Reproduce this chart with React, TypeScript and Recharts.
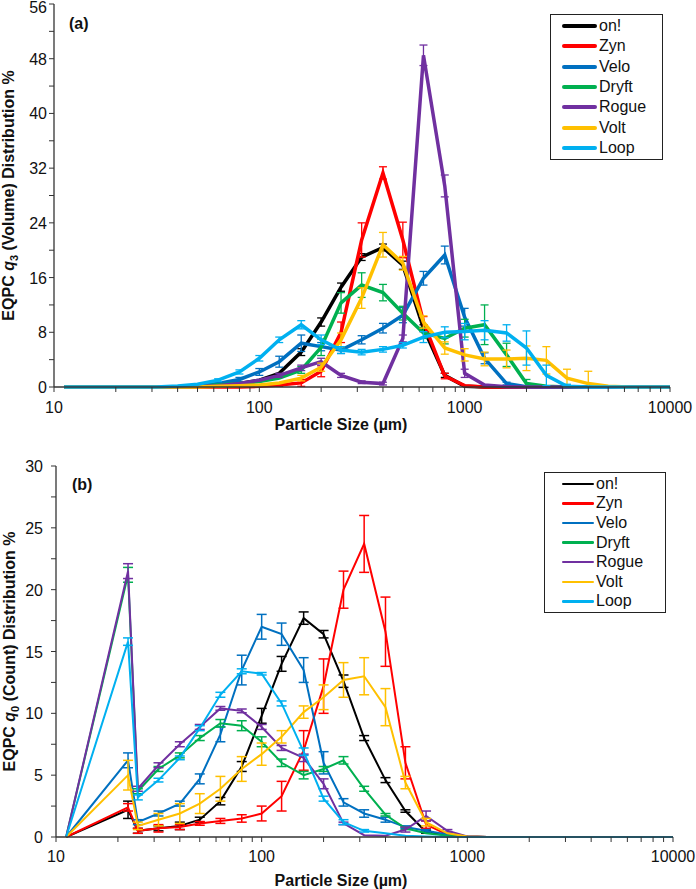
import React from 'react';
import { LineChart, Line, XAxis, YAxis, ErrorBar } from 'recharts';

const sizes = [11.2, 22.4, 25, 31.5, 40, 50, 63, 80, 100, 125, 160, 200, 250, 315, 400, 500, 630, 800, 1000, 1250, 1600, 2000, 2500, 3150, 4000, 5000, 6300, 8000, 10000];

const seriesNames = ['on!', 'Zyn', 'Velo', 'Dryft', 'Rogue', 'Volt', 'Loop'];
const seriesColors = ['#000000', '#FF0000', '#0070C0', '#00B050', '#7030A0', '#FFC000', '#00B0F0'];

const xTicks = [10, 20, 30, 40, 50, 60, 70, 80, 90, 100, 200, 300, 400, 500, 600, 700, 800, 900, 1000, 2000, 3000, 4000, 5000, 6000, 7000, 8000, 9000, 10000];
const xLabels = [10, 100, 1000, 10000];

// (a) q3 volume distribution %
const volOn = [0, 0, 0, 0, 0, 0.1, 0.2, 0.5, 1.0, 2.0, 5.1, 9.5, 14.6, 19.0, 20.4, 17.8, 8.6, 1.7, 0.1, 0, 0, 0, 0, 0, 0, 0, 0, 0, 0];
const volZyn = [0, 0, 0, 0, 0, 0, 0, 0, 0.1, 0.3, 0.6, 2.3, 8.0, 21.5, 31.3, 21.5, 9.5, 1.6, 0.2, 0, 0, 0, 0, 0, 0, 0, 0, 0, 0];
const volVelo = [0, 0, 0, 0, 0, 0.2, 0.5, 1.1, 2.2, 3.7, 6.4, 5.9, 5.4, 6.9, 8.6, 10.5, 15.9, 19.3, 10.2, 4.2, 0.5, 0.05, 0, 0, 0, 0, 0, 0, 0];
const volDryft = [0, 0, 0, 0, 0, 0.1, 0.3, 0.5, 0.8, 1.3, 2.5, 5.8, 12.3, 14.9, 13.8, 10.8, 7.9, 7.1, 8.6, 9.1, 4.7, 0.5, 0.1, 0, 0, 0, 0, 0, 0];
const volRogue = [0, 0, 0, 0, 0, 0.1, 0.2, 0.5, 1.0, 1.7, 2.8, 3.7, 1.7, 0.7, 0.5, 7.1, 48.5, 29.4, 2.0, 0.3, 0.05, 0, 0, 0, 0, 0, 0, 0, 0];
const volVolt = [0, 0, 0, 0, 0, 0, 0.1, 0.2, 0.3, 0.6, 1.3, 2.9, 6.9, 13.0, 20.8, 18.1, 9.5, 5.7, 4.7, 4.1, 4.1, 4.2, 3.9, 1.3, 0.5, 0.1, 0, 0, 0];
const volLoop = [0, 0, 0, 0, 0.15, 0.4, 1.0, 2.2, 4.2, 6.9, 9.1, 6.9, 5.4, 5.1, 5.5, 6.1, 7.3, 8.0, 8.1, 8.3, 7.9, 5.7, 1.7, 0.1, 0, 0, 0, 0, 0];

const volOnErr = [0, 0, 0, 0, 0, 0, 0, 0, 0, 0, 0.5, 0.6, 0.6, 0.5, 0.5, 0.6, 0.5, 0.3, 0, 0, 0, 0, 0, 0, 0, 0, 0, 0, 0];
const volZynErr = [0, 0, 0, 0, 0, 0, 0, 0, 0, 0.2, 0.5, 0.8, 1.5, 2.5, 0.9, 2.6, 0.8, 0.4, 0, 0, 0, 0, 0, 0, 0, 0, 0, 0, 0];
const volVeloErr = [0, 0, 0, 0, 0, 0, 0, 0.3, 0.5, 0.8, 1.2, 0.6, 0.5, 0.6, 0.7, 1.1, 1.0, 1.3, 1.3, 0.8, 0.2, 0, 0, 0, 0, 0, 0, 0, 0];
const volDryftErr = [0, 0, 0, 0, 0, 0, 0, 0, 0, 0, 0.5, 1.2, 1.5, 1.8, 1.2, 1.0, 0.8, 0.8, 1.3, 2.9, 1.7, 0.6, 0, 0, 0, 0, 0, 0, 0];
const volRogueErr = [0, 0, 0, 0, 0, 0, 0, 0, 0, 0.3, 0.4, 0.5, 0.3, 0.2, 0.2, 0.5, 1.5, 1.6, 0.6, 0, 0, 0, 0, 0, 0, 0, 0, 0, 0];
const volVoltErr = [0, 0, 0, 0, 0, 0, 0, 0, 0, 0, 0.4, 0.6, 1.0, 1.5, 1.8, 1.0, 0.9, 0.9, 0.9, 1.0, 1.3, 1.8, 2.0, 1.3, 1.8, 0, 0, 0, 0];
const volLoopErr = [0, 0, 0, 0, 0, 0, 0.2, 0.3, 0.4, 0.4, 0.6, 0.7, 0.5, 0.4, 0.4, 0.4, 0.8, 0.8, 1.2, 1.4, 1.2, 2.5, 1.5, 0.3, 0, 0, 0, 0, 0];

// (b) q0 count distribution %
const cntOn = [0, 2.2, 0.5, 0.7, 0.9, 1.4, 2.9, 5.7, 9.8, 14.0, 17.7, 16.4, 12.6, 8.0, 4.6, 2.1, 0.4, 0.15, 0.05, 0, 0, 0, 0, 0, 0, 0, 0, 0, 0];
const cntZyn = [0, 2.4, 0.5, 0.7, 0.8, 1.1, 1.3, 1.5, 1.9, 3.3, 7.0, 12.2, 20.0, 23.7, 16.6, 6.0, 1.0, 0.2, 0.05, 0, 0, 0, 0, 0, 0, 0, 0, 0, 0];
const cntVelo = [0, 6.2, 1.2, 1.9, 2.7, 4.7, 8.3, 13.5, 17.0, 16.4, 13.5, 6.0, 2.8, 1.9, 1.4, 0.8, 0.5, 0.2, 0.05, 0, 0, 0, 0, 0, 0, 0, 0, 0, 0];
const cntDryft = [0, 21.2, 3.7, 5.5, 6.6, 8.0, 9.2, 9.0, 7.7, 6.0, 5.0, 5.5, 6.2, 3.9, 1.8, 0.7, 0.3, 0.1, 0, 0, 0, 0, 0, 0, 0, 0, 0, 0, 0];
const cntRogue = [0, 21.5, 3.9, 5.8, 7.5, 8.9, 10.4, 10.2, 8.9, 7.2, 6.4, 4.3, 1.1, 0.15, 0.1, 0.6, 1.7, 0.5, 0.05, 0, 0, 0, 0, 0, 0, 0, 0, 0, 0];
const cntVolt = [0, 5.0, 0.9, 1.4, 1.9, 2.7, 3.9, 5.5, 6.7, 8.1, 10.1, 11.3, 12.7, 13.0, 10.5, 4.4, 1.2, 0.3, 0.05, 0, 0, 0, 0, 0, 0, 0, 0, 0, 0];
const cntLoop = [0, 15.8, 3.2, 4.6, 6.4, 8.8, 11.5, 13.4, 13.2, 10.8, 6.9, 3.1, 1.2, 0.5, 0.3, 0.1, 0.05, 0, 0, 0, 0, 0, 0, 0, 0, 0, 0, 0, 0];

const cntOnErr = [0, 0.7, 0.2, 0.2, 0.3, 0.2, 0.3, 0.4, 0.6, 0.6, 0.5, 0.3, 0.5, 0.2, 0.2, 0.1, 0.1, 0, 0, 0, 0, 0, 0, 0, 0, 0, 0, 0, 0];
const cntZynErr = [0, 0.3, 0.2, 0.3, 0.2, 0.15, 0.2, 0.3, 0.6, 1.2, 1.6, 2.2, 1.5, 2.3, 2.8, 1.3, 0.3, 0.1, 0, 0, 0, 0, 0, 0, 0, 0, 0, 0, 0];
const cntVeloErr = [0, 0.6, 0.2, 0.2, 0.2, 0.4, 0.6, 1.2, 1.0, 0.9, 1.0, 0.9, 0.3, 0.3, 0.2, 0.1, 0.1, 0, 0, 0, 0, 0, 0, 0, 0, 0, 0, 0, 0];
const cntDryftErr = [0, 0.6, 0.2, 0.2, 0.2, 0.2, 0.3, 0.4, 0.4, 0.3, 0.3, 0.2, 0.3, 0.2, 0.1, 0.1, 0, 0, 0, 0, 0, 0, 0, 0, 0, 0, 0, 0, 0];
const cntRogueErr = [0, 0.6, 0.2, 0.2, 0.2, 0.2, 0.15, 0.15, 0.2, 0.2, 0.3, 0.4, 0.1, 0, 0, 0.2, 0.4, 0.1, 0, 0, 0, 0, 0, 0, 0, 0, 0, 0, 0];
const cntVoltErr = [0, 1.2, 0.3, 0.5, 0.8, 0.8, 1.0, 1.0, 0.9, 0.5, 0.5, 1.0, 1.4, 1.5, 1.5, 0.5, 0.3, 0, 0, 0, 0, 0, 0, 0, 0, 0, 0, 0, 0];
const cntLoopErr = [0, 0.3, 0.2, 0.15, 0.15, 0.2, 0.2, 0.2, 0.1, 0.2, 0.3, 0.2, 0.2, 0.1, 0, 0, 0, 0, 0, 0, 0, 0, 0, 0, 0, 0, 0, 0, 0];

const volTicks = [0, 4, 8, 12, 16, 20, 24, 28, 32, 36, 40, 44, 48, 52, 56];
const volLabels = [0, 8, 16, 24, 32, 40, 48, 56];
const cntTicks = [0, 2.5, 5, 7.5, 10, 12.5, 15, 17.5, 20, 22.5, 25, 27.5, 30];
const cntLabels = [0, 5, 10, 15, 20, 25, 30];

const FONT = '"Liberation Sans", Arial, sans-serif';
const AXIS = '#333333';

// error bars never go below zero, so the lower arm is clipped at the value
function buildRows(values: number[][], errors: number[][]) {
  return sizes.map((size, i) => {
    const row: Record<string, any> = { size };
    seriesNames.forEach((name, s) => {
      const v = values[s][i];
      const e = errors[s][i];
      row[name] = v;
      row[name + '_err'] = e ? [Math.min(e, v), e] : 0;
    });
    return row;
  });
}

const volRows = buildRows(
  [volOn, volZyn, volVelo, volDryft, volRogue, volVolt, volLoop],
  [volOnErr, volZynErr, volVeloErr, volDryftErr, volRogueErr, volVoltErr, volLoopErr]
);
const cntRows = buildRows(
  [cntOn, cntZyn, cntVelo, cntDryft, cntRogue, cntVolt, cntLoop],
  [cntOnErr, cntZynErr, cntVeloErr, cntDryftErr, cntRogueErr, cntVoltErr, cntLoopErr]
);

interface PanelProps {
  rows: Record<string, any>[];
  top: number;
  height: number;
  margin: { top: number; right: number; left: number; bottom: number };
  yWidth: number;
  xHeight: number;
  yMax: number;
  yTicks: number[];
  yLabels: number[];
  yLabelGap: number;
  tickBaseline: number;
  titleBaseline: number;
  titleX: number;
  sub: string;
  quantity: string;
  tag: string;
  tagPos: { left: number; top: number };
  lineWidth: number;
  errWidth: number;
  errCap: number;
}

function Panel(p: PanelProps) {
  // tick marks point outward; only the decades get a label
  const XTick = (props: any) => {
    const { x, y, payload } = props;
    const axisY = y - 7;
    return (
      <g>
        <line x1={x} x2={x} y1={axisY} y2={axisY + 5} stroke={AXIS} strokeWidth={1} />
        {xLabels.includes(payload.value) && (
          <text x={x} y={axisY + p.tickBaseline} textAnchor="middle" fontSize={16} fontFamily={FONT} fill="#111">
            {payload.value}
          </text>
        )}
      </g>
    );
  };
  const YTick = (props: any) => {
    const { y, payload } = props;
    const ty = payload.value === p.yMax ? Math.max(y + 6, 13) : y + 6;
    return (
      <g>
        <line x1={p.yWidth - 5} x2={p.yWidth} y1={y} y2={y} stroke={AXIS} strokeWidth={1} />
        {p.yLabels.includes(payload.value) && (
          <text x={p.yWidth - p.yLabelGap} y={ty} textAnchor="end" fontSize={16} fontFamily={FONT} fill="#111">
            {payload.value}
          </text>
        )}
      </g>
    );
  };
  const yTitle = (props: any) => {
    const vb = props.viewBox;
    const cy = vb.y + vb.height / 2;
    return (
      <text transform={`translate(${p.titleX}, ${cy}) rotate(-90)`} textAnchor="middle" dy={6} fontSize={16} fontWeight="bold" fontFamily={FONT} fill="#111">
        EQPC <tspan fontStyle="italic">q</tspan>
        <tspan fontSize={11} dy={4}>{p.sub}</tspan>
        <tspan dy={-4}> ({p.quantity}) Distribution %</tspan>
      </text>
    );
  };
  const xTitle = (props: any) => {
    const vb = props.viewBox;
    return (
      <text x={341} y={vb.y + p.titleBaseline} textAnchor="middle" fontSize={16} fontWeight="bold" fontFamily={FONT} fill="#111">
        Particle Size (µm)
      </text>
    );
  };

  return (
    <div style={{ position: 'absolute', left: 0, top: p.top, width: 696, height: p.height }}>
      <LineChart width={696} height={p.height} data={p.rows} margin={p.margin}>
        <XAxis
          dataKey="size"
          type="number"
          scale="log"
          domain={[10, 10000]}
          ticks={xTicks}
          interval={0}
          height={p.xHeight}
          tickSize={5}
          tickLine={false}
          tick={XTick}
          stroke={AXIS}
          strokeWidth={1.3}
          label={{ content: xTitle }}
        />
        <XAxis xAxisId="top" orientation="top" type="number" scale="log" domain={[10, 10000]} height={0} tick={false} tickLine={false} stroke={AXIS} strokeWidth={1.3} />
        <YAxis
          type="number"
          domain={[0, p.yMax]}
          ticks={p.yTicks}
          interval={0}
          width={p.yWidth}
          tickSize={5}
          tickLine={false}
          tick={YTick}
          stroke={AXIS}
          strokeWidth={1.3}
          label={{ content: yTitle }}
        />
        <YAxis yAxisId="right" orientation="right" type="number" domain={[0, p.yMax]} width={0} tick={false} tickLine={false} stroke={AXIS} strokeWidth={1.3} />
        {seriesNames.map((name, s) => (
          <Line
            key={name}
            dataKey={name}
            type="linear"
            stroke={seriesColors[s]}
            strokeWidth={p.lineWidth}
            dot={false}
            activeDot={false}
            isAnimationActive={false}
          >
            <ErrorBar dataKey={name + '_err'} direction="y" width={p.errCap} stroke={seriesColors[s]} strokeWidth={p.errWidth} isAnimationActive={false} />
          </Line>
        ))}
      </LineChart>
      <div style={{ position: 'absolute', left: p.tagPos.left, top: p.tagPos.top, fontFamily: FONT, fontWeight: 'bold', fontSize: 16, color: '#111' }}>
        {p.tag}
      </div>
    </div>
  );
}

function LegendBox({ left, top, width, rowH, swatch, swatchW, thick }: { left: number; top: number; width: number; rowH: number; swatch: number; swatchW: number; thick: number }) {
  return (
    <div
      style={{
        position: 'absolute',
        left,
        top,
        width,
        border: '1.5px solid #222',
        background: '#fff',
        fontFamily: FONT,
        fontSize: 16,
        color: '#111',
        padding: '1px 0',
      }}
    >
      {seriesNames.map((name, s) => (
        <div key={name} style={{ height: rowH, display: 'flex', alignItems: 'center' }}>
          <div style={{ marginLeft: swatch, width: swatchW, height: thick, background: seriesColors[s], borderRadius: thick / 2 }} />
          <span style={{ marginLeft: 2, lineHeight: 1 }}>{name}</span>
        </div>
      ))}
    </div>
  );
}

export default function App() {
  return (
    <div style={{ position: 'absolute', left: 0, top: 0, width: 696, height: 889, background: '#fff' }}>
      <Panel
        rows={volRows}
        top={0}
        height={440}
        margin={{ top: 4, right: 26, left: 0, bottom: 0 }}
        yWidth={54}
        xHeight={53}
        yMax={56}
        yTicks={volTicks}
        yLabels={volLabels}
        yLabelGap={7}
        tickBaseline={26}
        titleBaseline={43}
        titleX={8}
        sub="3"
        quantity="Volume"
        tag="(a)"
        tagPos={{ left: 69, top: 15 }}
        lineWidth={3.5}
        errWidth={1.3}
        errCap={4}
      />
      <Panel
        rows={cntRows}
        top={440}
        height={449}
        margin={{ top: 26, right: 23, left: 0, bottom: 0 }}
        yWidth={56}
        xHeight={52}
        yMax={30}
        yTicks={cntTicks}
        yLabels={cntLabels}
        yLabelGap={13}
        tickBaseline={25}
        titleBaseline={49}
        titleX={9}
        sub="0"
        quantity="Count"
        tag="(b)"
        tagPos={{ left: 72, top: 36 }}
        lineWidth={2}
        errWidth={1.5}
        errCap={5}
      />
      <LegendBox left={550} top={14} width={111} rowH={20.3} swatch={11} swatchW={35} thick={4} />
      <LegendBox left={544} top={472} width={120} rowH={19.6} swatch={17} swatchW={32} thick={2.5} />
    </div>
  );
}
